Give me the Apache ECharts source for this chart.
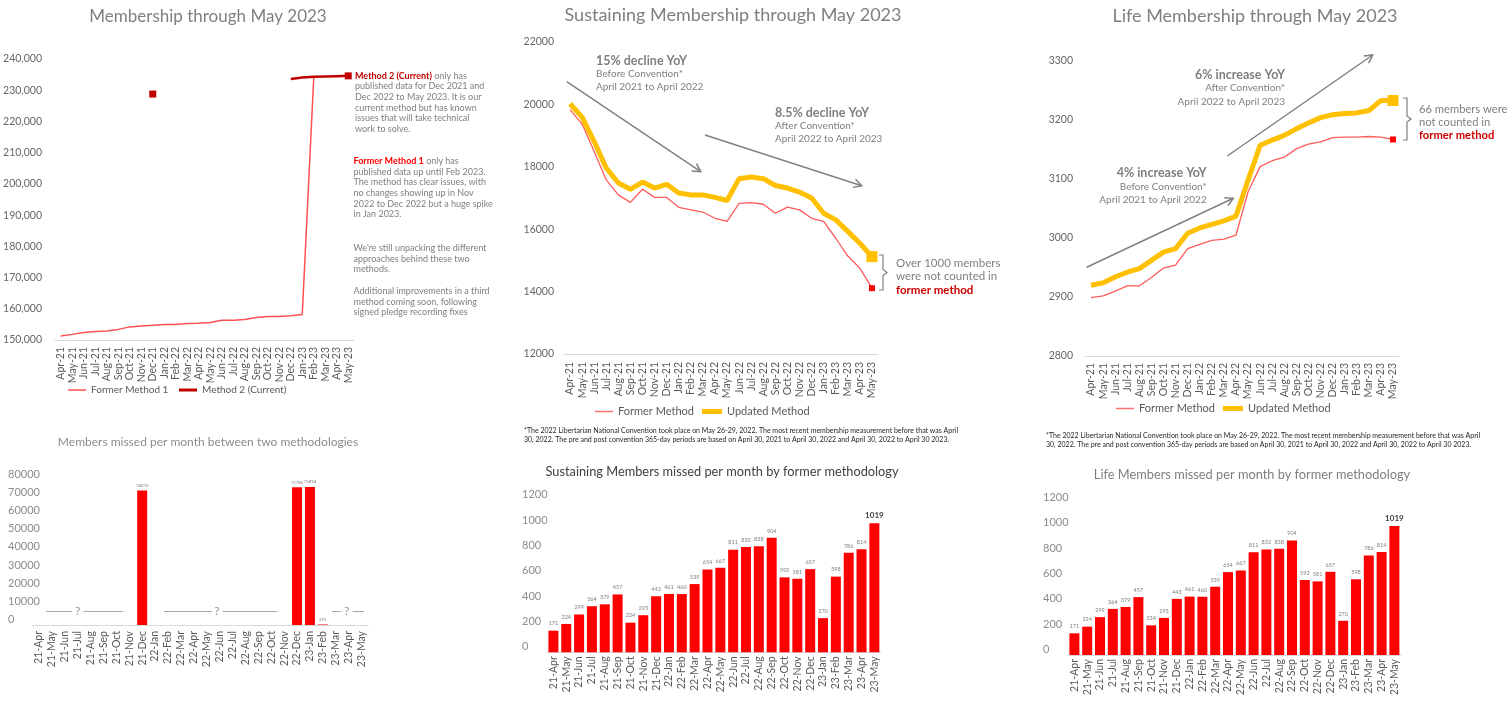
<!DOCTYPE html>
<html><head><meta charset="utf-8">
<script src="https://cdn.jsdelivr.net/npm/echarts@6/dist/echarts.min.js"></script>
<style>html,body{margin:0;padding:0;background:#fff}#c{width:1512px;height:701px}</style>
</head><body><div id="c"></div>
<script>
// ---------- DATA ----------
const monthsTop = ['Apr-21','May-21','Jun-21','Jul-21','Aug-21','Sep-21','Oct-21','Nov-21','Dec-21','Jan-22','Feb-22','Mar-22','Apr-22','May-22','Jun-22','Jul-22','Aug-22','Sep-22','Oct-22','Nov-22','Dec-22','Jan-23','Feb-23','Mar-23','Apr-23','May-23'];
const monthsBottom = ['21-Apr','21-May','21-Jun','21-Jul','21-Aug','21-Sep','21-Oct','21-Nov','21-Dec','22-Jan','22-Feb','22-Mar','22-Apr','22-May','22-Jun','22-Jul','22-Aug','22-Sep','22-Oct','22-Nov','22-Dec','23-Jan','23-Feb','23-Mar','23-Apr','23-May'];

const totalFormer1 = [151300,151800,152400,152700,152900,153400,154200,154500,154700,155000,155000,155300,155400,155600,156300,156300,156600,157200,157500,157500,157800,158200,234000,null,null,null];
const totalMethod2 = [null,null,null,null,null,null,null,null,228770,null,null,null,null,null,null,null,null,null,null,null,233600,234100,234300,234400,234500,234600];

const sustainingFormer  = [19830,19370,18490,17580,17100,16860,17280,17020,17020,16700,16620,16550,16350,16250,16830,16850,16800,16510,16710,16620,16350,16250,15710,15140,14750,14110];
const sustainingUpdated = [20020,19590,18810,17960,17480,17280,17510,17320,17440,17160,17100,17100,17020,16920,17620,17670,17620,17400,17320,17190,17000,16510,16300,15930,15550,15120];

const lifeFormer  = [2899,2902,2910,2919,2919,2933,2949,2954,2982,2989,2996,2998,3005,3078,3121,3131,3137,3151,3159,3163,3170,3171,3171,3172,3171,3167];
const lifeUpdated = [2920,2924,2934,2942,2948,2962,2976,2982,3008,3017,3023,3029,3037,3098,3157,3166,3174,3185,3195,3204,3209,3211,3212,3216,3233,3233];

const missedBetween = [null,null,null,null,null,null,null,null,74070,null,null,null,null,null,null,null,null,null,null,null,75785,75894,291,null,null,null];
const sustainingMissed = [171,224,299,364,379,457,234,293,443,461,460,539,654,667,811,832,838,904,592,581,657,270,598,786,814,1019];
const lifeMissed       = [171,224,299,364,379,457,234,293,443,461,460,539,654,667,811,832,838,904,592,581,657,270,598,786,814,1019];

// "no data" spans (category index units) and the '?' marks in the between-methods chart
const unknownSpans = [[0.55,2.55],[3.45,6.5],[9.7,13.4],[14.25,18.45],[22.7,23.4],[24.3,25.2]];
const unknownMarks = [3.0,13.8,23.85];
const unknownLevel = 7700;

// ---------- HELPERS ----------
const FONT = 'Lato';
const GRAY = '#7f7f7f';
const AXIS_TXT = '#666666';

function endMarkers(arr, size, color){
  return arr.map((v,i)=>{
    if (v == null) return null;
    const prevNull = i === 0 || arr[i-1] == null;
    const nextNull = i === arr.length-1 || arr[i+1] == null;
    if (i === arr.length-1 || (prevNull && nextNull)) return {value:v, symbol:'rect', symbolSize:size, itemStyle:{color:color}};
    return v;
  });
}
function labelledBars(arr, boldLast){
  return arr.map((v,i)=>{
    if (boldLast && i === arr.length-1) return {value:v, label:{fontSize:8, fontWeight:'bold', color:'#404040'}};
    return v;
  });
}
function arrow(x1,y1,x2,y2){
  const a = Math.atan2(y2-y1, x2-x1), L = 9, w = 0.5;
  return [
    {type:'line', shape:{x1:x1,y1:y1,x2:x2,y2:y2}, style:{stroke:'#808080', lineWidth:1.5}},
    {type:'polyline', shape:{points:[[x2-L*Math.cos(a-w), y2-L*Math.sin(a-w)],[x2,y2],[x2-L*Math.cos(a+w), y2-L*Math.sin(a+w)]]}, style:{stroke:'#808080', lineWidth:1.5, fill:null}}
  ];
}
function bracket(x,y1,y2){
  const m = (y1+y2)/2;
  return {type:'polyline', shape:{points:[[x,y1],[x+4,y1],[x+4,m-3],[x+8,m],[x+4,m+3],[x+4,y2],[x,y2]]}, style:{stroke:'#808080', lineWidth:1.2, fill:null}};
}
function txt(x,y,text,opt){
  return {type:'text', x:x, y:y, style:Object.assign({text:text, fontFamily:FONT, fill:GRAY, fontSize:11, lineHeight:13.3}, opt||{})};
}
function catX(gi, data, margin, fs){
  return {type:'category', gridIndex:gi, data:data, boundaryGap:true,
    axisLine:{show:true, lineStyle:{color:'#D9D9D9', width:1}}, axisTick:{show:false},
    axisLabel:{rotate:90, interval:0, fontSize:fs, color:'#595959', margin:margin, fontFamily:FONT},
    splitLine:{show:false}};
}
function valY(gi, min, max, interval, lab){
  return {type:'value', gridIndex:gi, min:min, max:max, interval:interval,
    axisLine:{show:false}, axisTick:{show:false}, splitLine:{show:false},
    axisLabel:Object.assign({color:AXIS_TXT, fontSize:10.5, fontFamily:FONT, formatter:v=>String(v)}, lab)};
}
function legendItem(name, left, top, w, h, color, fs){
  return {data:[{name:name, icon:'rect', itemStyle:{color:color}}], left:left, top:top, padding:0,
    itemWidth:w, itemHeight:h, textStyle:{fontSize:fs, color:'#595959', fontFamily:FONT}, selectedMode:false};
}
const fn = new Intl.NumberFormat('en-US');

// ---------- OPTION ----------
const option = {
  animation:false,
  textStyle:{fontFamily:FONT},
  title:[
    {text:'Membership through May 2023', left:208, top:8, textAlign:'center', padding:0, textStyle:{fontSize:17, fontWeight:'normal', color:GRAY}},
    {text:'Sustaining Membership through May 2023', left:733, top:6, textAlign:'center', padding:0, textStyle:{fontSize:18, fontWeight:'normal', color:GRAY}},
    {text:'Life Membership through May 2023', left:1255, top:7, textAlign:'center', padding:0, textStyle:{fontSize:18, fontWeight:'normal', color:GRAY}},
    {text:'Members missed per month between two methodologies', left:208, top:436, textAlign:'center', padding:0, textStyle:{fontSize:12, fontWeight:'normal', color:'#8c8c8c'}},
    {text:'Sustaining Members missed per month by former methodology', left:722, top:465, textAlign:'center', padding:0, textStyle:{fontSize:12.8, fontWeight:'normal', color:'#404040'}},
    {text:'Life Members missed per month by former methodology', left:1252, top:468, textAlign:'center', padding:0, textStyle:{fontSize:12.8, fontWeight:'normal', color:GRAY}}
  ],
  legend:[
    legendItem('Former Method 1', 68, 385, 18, 1.5, '#FF5050', 10),
    legendItem('Method 2 (Current)', 179, 385, 18, 3, '#C00000', 10),
    legendItem('Former Method', 595, 406, 18, 1.5, '#FF7070', 11),
    legendItem('Updated Method', 702, 406, 20, 5, '#FFC000', 11),
    legendItem('Former Method', 1116, 403, 18, 1.5, '#FF7070', 11),
    legendItem('Updated Method', 1223, 403, 20, 5, '#FFC000', 11)
  ],
  grid:[
    {left:55, top:59, width:299, height:281, outerBoundsMode:'none'},
    {left:564, top:42, width:314, height:312, outerBoundsMode:'none'},
    {left:1085, top:61, width:314, height:295, outerBoundsMode:'none'},
    {left:32.5, top:479.6, width:335.5, height:145.4, outerBoundsMode:'none'},
    {left:547, top:500.4, width:333.8, height:151.9, outerBoundsMode:'none'},
    {left:1068, top:503, width:332.8, height:152, outerBoundsMode:'none'}
  ],
  xAxis:[
    catX(0, monthsTop, 7, 10.5),
    catX(1, monthsTop, 8, 10.5),
    catX(2, monthsTop, 7, 10.5),
    catX(3, monthsBottom, 6, 10.5),
    catX(4, monthsBottom, 4, 10.5),
    catX(5, monthsBottom, 4, 10.5),
    {type:'value', gridIndex:3, min:-0.5, max:25.5, show:false, position:'top'}
  ],
  yAxis:[
    valY(0, 150000, 240000, 10000, {margin:13, formatter:v=>fn.format(v)}),
    valY(1, 12000, 22000, 2000, {margin:10}),
    valY(2, 2800, 3300, 100, {margin:12}),
    valY(3, 0, 80000, 10000, {margin:24.5, align:'left', verticalAlign:'bottom', fontSize:11, color:'#8c8c8c'}),
    valY(4, 0, 1200, 200, {margin:25, align:'left', verticalAlign:'bottom', fontSize:11, color:'#8c8c8c'}),
    valY(5, 0, 1200, 200, {margin:25, align:'left', verticalAlign:'bottom', fontSize:11, color:'#8c8c8c'})
  ],
  series:[
    // Chart 1: total membership
    {type:'line', name:'Former Method 1', xAxisIndex:0, yAxisIndex:0, data:totalFormer1, symbol:'none', connectNulls:false,
      lineStyle:{color:'#FF5050', width:1.5}, itemStyle:{color:'#FF5050'}},
    {type:'line', name:'Method 2 (Current)', xAxisIndex:0, yAxisIndex:0, data:endMarkers(totalMethod2, 7, '#C00000'), symbol:'none', showAllSymbol:true, connectNulls:false,
      lineStyle:{color:'#C00000', width:2.5}, itemStyle:{color:'#C00000'}},
    // Chart 2: sustaining
    {type:'line', name:'Former Method', xAxisIndex:1, yAxisIndex:1, data:endMarkers(sustainingFormer, 6, '#FF0000'), symbol:'none', showAllSymbol:true,
      lineStyle:{color:'#FF5B5B', width:1.3}, itemStyle:{color:'#FF5B5B'}},
    {type:'line', name:'Updated Method', xAxisIndex:1, yAxisIndex:1, data:endMarkers(sustainingUpdated, 11, '#FFC000'), symbol:'none', showAllSymbol:true,
      lineStyle:{color:'#FFC000', width:5}, itemStyle:{color:'#FFC000'}},
    // Chart 3: life
    {type:'line', name:'Former Method', xAxisIndex:2, yAxisIndex:2, data:endMarkers(lifeFormer, 6, '#FF0000'), symbol:'none', showAllSymbol:true,
      lineStyle:{color:'#FF5B5B', width:1.3}, itemStyle:{color:'#FF5B5B'}},
    {type:'line', name:'Updated Method', xAxisIndex:2, yAxisIndex:2, data:endMarkers(lifeUpdated, 11, '#FFC000'), symbol:'none', showAllSymbol:true,
      lineStyle:{color:'#FFC000', width:5}, itemStyle:{color:'#FFC000'}},
    // Chart 4: missed between methods
    {type:'bar', name:'Missed between methods', xAxisIndex:3, yAxisIndex:3, data:missedBetween, barWidth:10,
      itemStyle:{color:'#FF0000'}, label:{show:true, position:'top', distance:3, fontSize:4.3, color:GRAY}},
    {type:'lines', coordinateSystem:'cartesian2d', xAxisIndex:6, yAxisIndex:3, silent:true,
      data:unknownSpans.map(s=>({coords:[[s[0],unknownLevel],[s[1],unknownLevel]]})),
      lineStyle:{color:'#A6A6A6', width:1.2, opacity:1}},
    {type:'scatter', xAxisIndex:6, yAxisIndex:3, silent:true, symbolSize:0,
      data:unknownMarks.map(x=>[x,unknownLevel]),
      label:{show:true, position:'inside', formatter:'?', fontSize:12, color:GRAY}},
    // Chart 5: sustaining missed
    {type:'bar', name:'Sustaining missed', xAxisIndex:4, yAxisIndex:4, data:labelledBars(sustainingMissed, true), barWidth:10,
      itemStyle:{color:'#FF0000'}, label:{show:true, position:'top', distance:4, fontSize:5.5, color:GRAY}},
    // Chart 6: life missed
    {type:'bar', name:'Life missed', xAxisIndex:5, yAxisIndex:5, data:labelledBars(lifeMissed, true), barWidth:10,
      itemStyle:{color:'#FF0000'}, label:{show:true, position:'top', distance:4, fontSize:5.5, color:GRAY}}
  ],
  graphic:[
    // chart 1 notes
    txt(355, 70.3, '{r|Method 2 (Current)} only has\npublished data for Dec 2021 and\nDec 2022 to May 2023. It is our\ncurrent method but has known\nissues that will take technical\nwork to solve.',
      {fontSize:9, lineHeight:10.7, rich:{r:{fill:'#C00000', fontWeight:'bold', fontSize:9, lineHeight:10.7, fontFamily:FONT}}}),
    txt(353.5, 155.6, '{r|Former Method 1} only has\npublished data up until Feb 2023.\nThe method has clear issues, with\nno changes showing up in Nov\n2022 to Dec 2022 but a huge spike\nin Jan 2023.',
      {fontSize:9, lineHeight:10.7, rich:{r:{fill:'#FF0000', fontWeight:'bold', fontSize:9, lineHeight:10.7, fontFamily:FONT}}}),
    txt(353.5, 242.7, "We're still unpacking the different\napproaches behind these two\nmethods.", {fontSize:9, lineHeight:10.7}),
    txt(353.5, 285.7, 'Additional improvements in a third\nmethod coming soon, following\nsigned pledge recording fixes', {fontSize:9, lineHeight:10.7}),
    // chart 2 notes
    txt(596, 54, '{b|15% decline YoY}\nBefore Convention*\nApril 2021 to April 2022', {fontSize:10, rich:{b:{fontSize:12.5, fontWeight:'bold', fill:GRAY, lineHeight:13.3, fontFamily:FONT}}}),
    txt(775, 106, '{b|8.5% decline YoY}\nAfter Convention*\nApril 2022 to April 2023', {fontSize:10, rich:{b:{fontSize:12.5, fontWeight:'bold', fill:GRAY, lineHeight:13.3, fontFamily:FONT}}}),
    ...arrow(566.7, 81.7, 700.7, 171.7),
    ...arrow(705, 135, 861.7, 185.7),
    bracket(879, 255, 290),
    txt(896, 256.7, 'Over 1000 members\nwere not counted in\n{r|former method}', {fontSize:11.5, rich:{r:{fill:'#CC0000', fontWeight:'bold', fontSize:11.5, lineHeight:13.3, fontFamily:FONT}}}),
    txt(524, 426.3, '*The 2022 Libertarian National Convention took place on May 26-29, 2022. The most recent membership measurement before that was April\n30, 2022. The pre and post convention 365-day periods are based on April 30, 2021 to April 30, 2022 and April 30, 2022 to April 30 2023.',
      {fontSize:7, lineHeight:8.7, fill:'#262626'}),
    // chart 3 notes
    txt(1285, 68.3, '{b|6% increase YoY}\nAfter Convention*\nApril 2022 to April 2023', {align:'right', fontSize:10, rich:{b:{fontSize:12.5, fontWeight:'bold', fill:GRAY, lineHeight:13.3, fontFamily:FONT}}}),
    txt(1206.7, 166.7, '{b|4% increase YoY}\nBefore Convention*\nApril 2021 to April 2022', {align:'right', fontSize:10, rich:{b:{fontSize:12.5, fontWeight:'bold', fill:GRAY, lineHeight:13.3, fontFamily:FONT}}}),
    ...arrow(1086.7, 267.3, 1233.3, 198.3),
    ...arrow(1227.3, 156, 1372.7, 55),
    bracket(1403, 98, 140),
    txt(1419, 103.4, '66 members were\nnot counted in\n{r|former method}', {fontSize:11.2, lineHeight:12.8, rich:{r:{fill:'#CC0000', fontWeight:'bold', fontSize:11.2, lineHeight:12.8, fontFamily:FONT}}}),
    txt(1046, 431.7, '*The 2022 Libertarian National Convention took place on May 26-29, 2022. The most recent membership measurement before that was April\n30, 2022. The pre and post convention 365-day periods are based on April 30, 2021 to April 30, 2022 and April 30, 2022 to April 30 2023.',
      {fontSize:7, lineHeight:8.7, fill:'#262626'})
  ]
};

const chart = echarts.init(document.getElementById('c'), null, {renderer:'canvas'});
chart.setOption(option);
</script>
</body></html>
